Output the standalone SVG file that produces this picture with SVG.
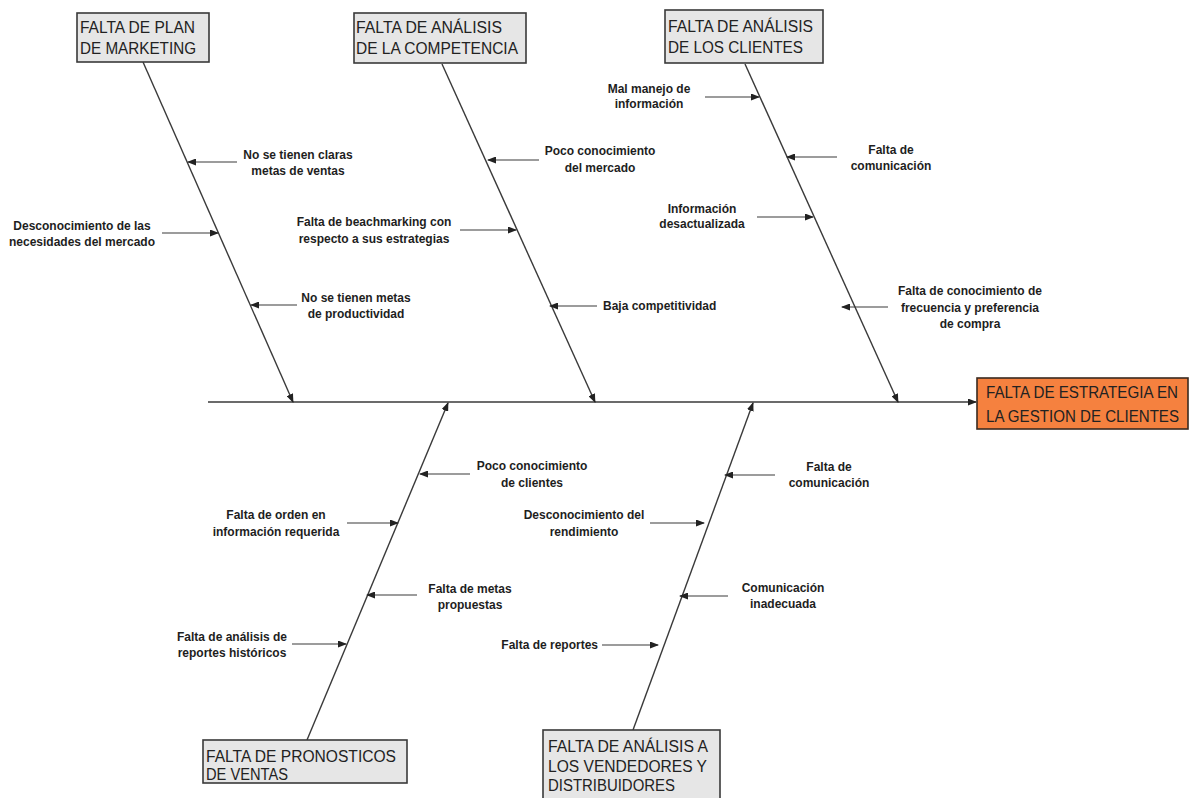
<svg xmlns="http://www.w3.org/2000/svg" width="1189" height="798" viewBox="0 0 1189 798">
<style>
.box{fill:#e6e6e6;stroke:#3a3a3a;stroke-width:1.6}
.eff{fill:#f5813f;stroke:#3a2a20;stroke-width:1.6}
.bt{font-family:"Liberation Sans",Arial,sans-serif;font-size:16px;fill:#222}
.lbl{font-family:"Liberation Sans",Arial,sans-serif;font-size:12px;font-weight:bold;fill:#1e1e1e;text-anchor:middle}
.bone{stroke:#3a3a3a;stroke-width:1.4;fill:none}
.sub{stroke:#3a3a3a;stroke-width:1.2;fill:none}
</style>
<defs>
<marker id="ah" markerUnits="userSpaceOnUse" markerWidth="9" markerHeight="7" refX="8" refY="3.5" orient="auto">
<path d="M0,0 L9,3.5 L0,7 z" fill="#222"/>
</marker>
</defs>
<rect width="1189" height="798" fill="#ffffff"/>

<g id="connectors">
<line class="bone" x1="208" y1="402" x2="976" y2="402" marker-end="url(#ah)"/>
<line class="bone" x1="143" y1="62" x2="293" y2="402" marker-end="url(#ah)"/>
<line class="bone" x1="442" y1="64" x2="595" y2="402" marker-end="url(#ah)"/>
<line class="bone" x1="745" y1="64" x2="898" y2="402" marker-end="url(#ah)"/>
<line class="bone" x1="307" y1="740" x2="448" y2="403" marker-end="url(#ah)"/>
<line class="bone" x1="633" y1="730" x2="753" y2="403" marker-end="url(#ah)"/>

<line class="sub" x1="237" y1="162" x2="188" y2="162" marker-end="url(#ah)"/>
<line class="sub" x1="162" y1="233" x2="218" y2="233" marker-end="url(#ah)"/>
<line class="sub" x1="297" y1="305" x2="251" y2="305" marker-end="url(#ah)"/>

<line class="sub" x1="539" y1="160" x2="488" y2="160" marker-end="url(#ah)"/>
<line class="sub" x1="460" y1="230" x2="516" y2="230" marker-end="url(#ah)"/>
<line class="sub" x1="597" y1="306" x2="550" y2="306" marker-end="url(#ah)"/>

<line class="sub" x1="705" y1="97" x2="759" y2="97" marker-end="url(#ah)"/>
<line class="sub" x1="837" y1="157" x2="787" y2="157" marker-end="url(#ah)"/>
<line class="sub" x1="757" y1="217" x2="813" y2="217" marker-end="url(#ah)"/>
<line class="sub" x1="888" y1="307" x2="842" y2="307" marker-end="url(#ah)"/>

<line class="sub" x1="470" y1="474" x2="420" y2="474" marker-end="url(#ah)"/>
<line class="sub" x1="347" y1="523" x2="398" y2="523" marker-end="url(#ah)"/>
<line class="sub" x1="417" y1="595" x2="367" y2="595" marker-end="url(#ah)"/>
<line class="sub" x1="292" y1="644" x2="346" y2="644" marker-end="url(#ah)"/>

<line class="sub" x1="775" y1="475" x2="725" y2="475" marker-end="url(#ah)"/>
<line class="sub" x1="650" y1="523" x2="704" y2="523" marker-end="url(#ah)"/>
<line class="sub" x1="728" y1="596" x2="680" y2="596" marker-end="url(#ah)"/>
<line class="sub" x1="602" y1="645" x2="658" y2="645" marker-end="url(#ah)"/>
</g>

<g id="n-plan-marketing">
<rect class="box" x="77" y="13" width="132" height="49"/>
<text class="bt" x="80" y="33" textLength="115" lengthAdjust="spacingAndGlyphs">FALTA DE PLAN</text>
<text class="bt" x="80" y="54" textLength="116" lengthAdjust="spacingAndGlyphs">DE MARKETING</text>
</g>
<g id="n-competencia">
<rect class="box" x="354" y="13" width="172" height="50"/>
<text class="bt" x="356" y="33" textLength="146" lengthAdjust="spacingAndGlyphs">FALTA DE ANÁLISIS</text>
<text class="bt" x="356" y="54" textLength="162" lengthAdjust="spacingAndGlyphs">DE LA COMPETENCIA</text>
</g>
<g id="n-clientes">
<rect class="box" x="665" y="10" width="158" height="53"/>
<text class="bt" x="668" y="32" textLength="145" lengthAdjust="spacingAndGlyphs">FALTA DE ANÁLISIS</text>
<text class="bt" x="668" y="53" textLength="135" lengthAdjust="spacingAndGlyphs">DE LOS CLIENTES</text>
</g>
<g id="n-efecto">
<rect class="eff" x="977" y="378" width="211" height="51"/>
<text class="bt" x="986" y="398" textLength="192" lengthAdjust="spacingAndGlyphs">FALTA DE ESTRATEGIA EN</text>
<text class="bt" x="986" y="422" textLength="193" lengthAdjust="spacingAndGlyphs">LA GESTION DE CLIENTES</text>
</g>
<g id="n-pronosticos">
<rect class="box" x="203" y="740" width="204" height="43"/>
<text class="bt" x="206" y="762" textLength="190" lengthAdjust="spacingAndGlyphs">FALTA DE PRONOSTICOS</text>
<text class="bt" x="206" y="780" textLength="82" lengthAdjust="spacingAndGlyphs">DE VENTAS</text>
</g>
<g id="n-vendedores">
<rect class="box" x="543" y="730" width="177" height="72"/>
<text class="bt" x="548" y="752" textLength="160" lengthAdjust="spacingAndGlyphs">FALTA DE ANÁLISIS A</text>
<text class="bt" x="548" y="772" textLength="159" lengthAdjust="spacingAndGlyphs">LOS VENDEDORES Y</text>
<text class="bt" x="548" y="791" textLength="127" lengthAdjust="spacingAndGlyphs">DISTRIBUIDORES</text>
</g>

<g id="labels">
<text class="lbl" x="298" y="159">No se tienen claras</text>
<text class="lbl" x="298" y="175">metas de ventas</text>
<text class="lbl" x="82" y="230">Desconocimiento de las</text>
<text class="lbl" x="82" y="246">necesidades del mercado</text>
<text class="lbl" x="356" y="302">No se tienen metas</text>
<text class="lbl" x="356" y="318">de productividad</text>

<text class="lbl" x="600" y="155">Poco conocimiento</text>
<text class="lbl" x="600" y="172">del mercado</text>
<text class="lbl" x="374" y="226">Falta de beachmarking con</text>
<text class="lbl" x="374" y="243">respecto a sus estrategias</text>
<text class="lbl" x="603" y="310" style="text-anchor:start">Baja competitividad</text>

<text class="lbl" x="649" y="93">Mal manejo de</text>
<text class="lbl" x="649" y="108">información</text>
<text class="lbl" x="891" y="154">Falta de</text>
<text class="lbl" x="891" y="170">comunicación</text>
<text class="lbl" x="702" y="213">Información</text>
<text class="lbl" x="702" y="228">desactualizada</text>
<text class="lbl" x="970" y="295">Falta de conocimiento de</text>
<text class="lbl" x="970" y="312">frecuencia y preferencia</text>
<text class="lbl" x="970" y="328">de compra</text>

<text class="lbl" x="532" y="470">Poco conocimiento</text>
<text class="lbl" x="532" y="487">de clientes</text>
<text class="lbl" x="276" y="519">Falta de orden en</text>
<text class="lbl" x="276" y="536">información requerida</text>
<text class="lbl" x="470" y="593">Falta de metas</text>
<text class="lbl" x="470" y="609">propuestas</text>
<text class="lbl" x="232" y="641">Falta de análisis de</text>
<text class="lbl" x="232" y="657">reportes históricos</text>

<text class="lbl" x="829" y="471">Falta de</text>
<text class="lbl" x="829" y="487">comunicación</text>
<text class="lbl" x="584" y="519">Desconocimiento del</text>
<text class="lbl" x="584" y="536">rendimiento</text>
<text class="lbl" x="783" y="592">Comunicación</text>
<text class="lbl" x="783" y="608">inadecuada</text>
<text class="lbl" x="598" y="649" style="text-anchor:end">Falta de reportes</text>
</g>
</svg>
